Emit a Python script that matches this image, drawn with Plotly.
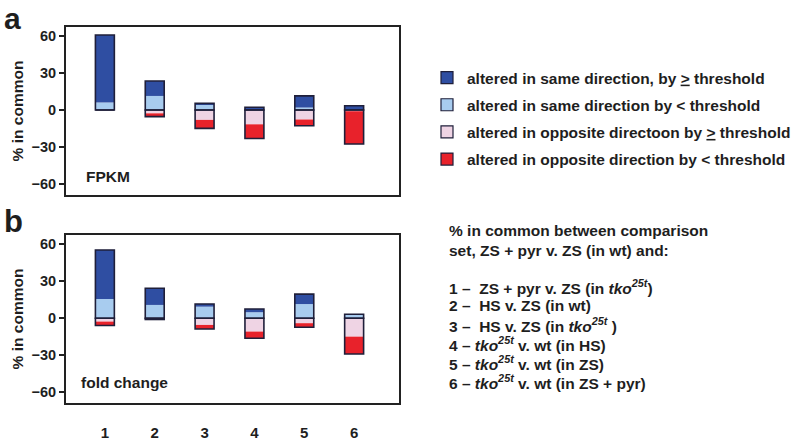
import plotly.graph_objects as go

# ---------------- data ----------------
categories = [1, 2, 3, 4, 5, 6]
tick_labels = ["1", "2", "3", "4", "5", "6"]
y_ticks = [60, 30, 0, -30, -60]

# panel a: FPKM
fpkm_same_lt = [6.0, 11.4, 4.4, 0.0, 2.0, 0.0]     # same direction by < threshold (light blue)
fpkm_same_ge = [54.8, 12.1, 1.0, 2.3, 9.5, 3.4]    # same direction by >= threshold (dark blue)
fpkm_opp_ge = [0.0, 2.7, 8.0, 11.6, 7.7, 1.0]      # opposite direction by >= threshold (pink)
fpkm_opp_lt = [0.0, 2.7, 6.9, 11.5, 5.0, 26.6]     # opposite direction by < threshold (red)

# panel b: fold change
fc_same_lt = [15.6, 10.8, 9.4, 4.9, 11.5, 3.2]
fc_same_ge = [39.8, 13.5, 2.2, 2.6, 8.1, 0.0]
fc_opp_ge = [2.7, 1.0, 5.4, 10.8, 4.0, 14.9]
fc_opp_lt = [3.2, 0.0, 3.3, 5.4, 3.3, 14.1]

legend_names = [
    "altered in same direction, by <u>&gt;</u> threshold",
    "altered in same direction by &lt; threshold",
    "altered in opposite directoon by <u>&gt;</u> threshold",
    "altered in opposite direction by &lt; threshold",
]

notes = [
    "% in common between comparison",
    "set, ZS + pyr v. ZS (in wt) and:",
    "1 \u2013\u00a0 ZS + pyr v. ZS (in <i>tko</i><sup><i>25t</i></sup>)",
    "2 \u2013\u00a0 HS v. ZS (in wt)",
    "3 \u2013\u00a0 HS v. ZS (in <i>tko</i><sup><i>25t</i></sup> )",
    "4 \u2013 <i>tko</i><sup><i>25t</i></sup> v. wt (in HS)",
    "5 \u2013 <i>tko</i><sup><i>25t</i></sup> v. wt (in ZS)",
    "6 \u2013 <i>tko</i><sup><i>25t</i></sup> v. wt (in ZS + pyr)",
]
note_y_px = [230.5, 250.5, 286.5, 305.5, 324.5, 343.5, 362.5, 381.5]

# ---------------- style ----------------
W, H = 800, 441
C_DARK = "#2f4ea2"
C_LIGHT = "#a8ccef"
C_PINK = "#efd4e4"
C_RED = "#e8222b"
C_EDGE = "#1f1f3a"
TXT = "#1e1e1e"
FONT = "Liberation Sans"
BAR_W = 0.38

def py(px):
    return 1 - px / H

fig = go.Figure()

def add_panel(same_lt, same_ge, opp_ge, opp_lt, xa, ya):
    pos_tot = [a + b for a, b in zip(same_lt, same_ge)]
    neg_tot = [-(a + b) for a, b in zip(opp_ge, opp_lt)]
    common = dict(x=categories, width=BAR_W, xaxis=xa, yaxis=ya,
                  showlegend=False, hoverinfo="skip")
    fig.add_trace(go.Bar(y=same_lt, base=[0] * 6, marker=dict(color=C_LIGHT, line=dict(width=0)), **common))
    fig.add_trace(go.Bar(y=same_ge, base=same_lt, marker=dict(color=C_DARK, line=dict(width=0)), **common))
    fig.add_trace(go.Bar(y=[-v for v in opp_ge], base=[0] * 6, marker=dict(color=C_PINK, line=dict(width=0)), **common))
    fig.add_trace(go.Bar(y=[-v for v in opp_lt], base=[-v for v in opp_ge], marker=dict(color=C_RED, line=dict(width=0)), **common))
    # outlines around the positive and negative stacks
    for tot in (pos_tot, neg_tot):
        fig.add_trace(go.Bar(y=tot, base=[0] * 6,
                             marker=dict(color="rgba(0,0,0,0)", line=dict(color=C_EDGE, width=1.6)),
                             **common))

add_panel(fpkm_same_lt, fpkm_same_ge, fpkm_opp_ge, fpkm_opp_lt, "x", "y")
add_panel(fc_same_lt, fc_same_ge, fc_opp_ge, fc_opp_lt, "x2", "y2")

# legend-only entries
for name, col in zip(legend_names, [C_DARK, C_LIGHT, C_PINK, C_RED]):
    fig.add_trace(go.Bar(x=[None], y=[None], name=name, legendgroup=name,
                         marker=dict(color=col, line=dict(color=C_EDGE, width=1.2)),
                         showlegend=True))

x_dom = [66 / W, 399 / W]
axis_common = dict(showline=True, mirror=True, linewidth=2, linecolor="#222222",
                   showgrid=False, zeroline=False, automargin=False)
x_rng = [0.22, 6.9]

fig.update_layout(
    width=W, height=H,
    margin=dict(l=0, r=0, t=0, b=0, autoexpand=False),
    paper_bgcolor="white", plot_bgcolor="white",
    barmode="overlay",
    font=dict(family=FONT, color=TXT, size=15.5, weight="bold"),
    xaxis=dict(domain=x_dom, range=x_rng, anchor="y", showticklabels=False, ticks="", **axis_common),
    xaxis2=dict(domain=x_dom, range=x_rng, anchor="y2", tickvals=categories, ticktext=tick_labels,
                ticks="", ticklabelstandoff=15,
                tickfont=dict(family=FONT, size=15, weight="bold", color=TXT), **axis_common),
    yaxis=dict(domain=[py(195), py(27)], range=[-68.9, 67.3], anchor="x",
               tickvals=y_ticks, ticks="outside", ticklen=5, tickwidth=1.5, tickcolor="#222222",
               tickfont=dict(family=FONT, size=14.5, weight="bold", color=TXT),
               title=dict(text="% in common", standoff=4,
                          font=dict(family=FONT, size=15.5, weight="bold", color=TXT)),
               **axis_common),
    yaxis2=dict(domain=[py(403), py(235)], range=[-68.7, 67.5], anchor="x2",
                tickvals=y_ticks, ticks="outside", ticklen=5, tickwidth=1.5, tickcolor="#222222",
                tickfont=dict(family=FONT, size=14.5, weight="bold", color=TXT),
                title=dict(text="% in common", standoff=4,
                           font=dict(family=FONT, size=15.5, weight="bold", color=TXT)),
                **axis_common),
    legend=dict(xref="container", yref="container", x=427 / W, y=py(61), xanchor="left", yanchor="top",
                font=dict(family=FONT, size=15.5, weight="bold", color=TXT),
                tracegroupgap=4, bgcolor="rgba(0,0,0,0)"),
)

ann = []
ann.append(dict(text="a", x=2 / W, y=1.0, xref="paper", yref="paper", xanchor="left", yanchor="top",
                showarrow=False, font=dict(family=FONT, size=30, weight="bold", color=TXT)))
ann.append(dict(text="b", x=2 / W, y=py(241), xref="paper", yref="paper", xanchor="left", yanchor="bottom",
                showarrow=False, font=dict(family=FONT, size=31, weight="bold", color=TXT)))
ann.append(dict(text="FPKM", x=84 / W, y=py(176), xref="paper", yref="paper", xanchor="left", yanchor="middle",
                showarrow=False, font=dict(family=FONT, size=15.5, weight="bold", color=TXT)))
ann.append(dict(text="fold change", x=79 / W, y=py(382), xref="paper", yref="paper", xanchor="left", yanchor="middle",
                showarrow=False, font=dict(family=FONT, size=15.5, weight="bold", color=TXT)))
for t, ypx in zip(notes, note_y_px):
    ann.append(dict(text=t, x=447 / W, y=py(ypx), xref="paper", yref="paper", xanchor="left", yanchor="middle",
                    showarrow=False, font=dict(family=FONT, size=15.5, weight="bold", color=TXT)))
fig.update_layout(annotations=ann)

fig.write_html("out.html", config={"displayModeBar": False},
               post_script="document.body.style.margin='0px';document.body.style.padding='0px';")
